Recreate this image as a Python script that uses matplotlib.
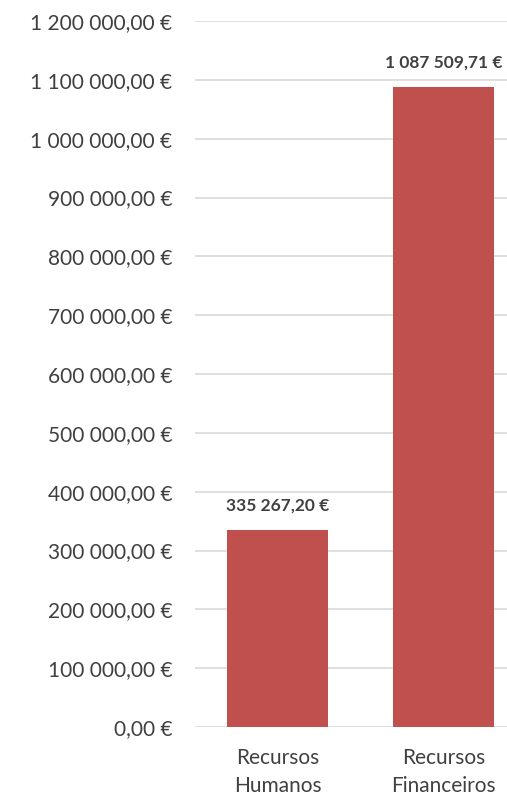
import matplotlib.pyplot as plt
from matplotlib.ticker import FuncFormatter

categorias = ["Recursos\nHumanos", "Recursos\nFinanceiros"]
valores = [335267.20, 1087509.71]
ticks = list(range(0, 1200001, 100000))

plt.rcParams['font.family'] = ['Lato', 'DejaVu Sans']


def euro(v, pos=None):
    s = f"{v:,.2f}".replace(",", " ").replace(".", ",")
    return s + " €"


W, H = 507, 796
fig = plt.figure(figsize=(W / 100, H / 100), dpi=100)
ax = fig.add_axes([194.5 / W, 1 - 727 / H, 332 / W, (727 - 21) / H])

ax.bar(range(len(valores)), valores, width=0.61, color="#C0504D", zorder=3)
ax.set_xlim(-0.5, 1.5)
ax.set_ylim(0, 1200000)
ax.set_yticks(ticks)
ax.yaxis.set_major_formatter(FuncFormatter(euro))
ax.set_xticks(range(len(categorias)))
ax.set_xticklabels(categorias, fontsize=15, color="#404040", linespacing=1.5)
ax.tick_params(axis="y", length=0, pad=16, labelsize=15, labelcolor="#404040")
ax.tick_params(axis="x", length=0, pad=15)

ax.grid(axis="y", color="#D9D9D9", linewidth=1.2, zorder=0)
for s in ax.spines.values():
    s.set_visible(False)

for i, v in enumerate(valores):
    ax.annotate(euro(v), (i, v), xytext=(0, 12), textcoords="offset points",
                ha="center", va="bottom", fontsize=12.5, fontweight="bold",
                color="#404040")

fig.savefig("out.png", dpi=100)
